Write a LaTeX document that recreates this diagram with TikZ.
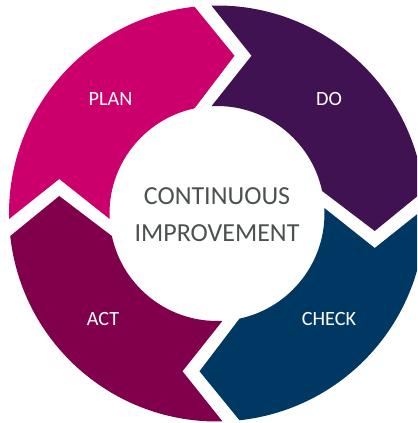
\documentclass[tikz,border=0pt]{standalone}
\usepackage{fontspec}
\setmainfont{Carlito}
\usepackage{tikz}
\definecolor{planpink}{RGB}{204,0,109}
\definecolor{dopurple}{RGB}{64,18,82}
\definecolor{checkblue}{RGB}{0,56,100}
\definecolor{actplum}{RGB}{128,0,75}
\definecolor{centregray}{RGB}{75,80,80}
\usetikzlibrary{calc}
\tikzset{%
  phase/.style={text=white, font=\fontsize{11.5}{13}\selectfont},% phase label on an arrow
  centre/.style={text=centregray, align=center,
    font=\fontsize{14.8}{21}\selectfont}% text in the middle
}
\newcommand*{\Rout}{4.16}
\newcommand*{\Rin}{2.15}
\newcommand*{\Rmid}{3.155}
\newcommand*{\gapoff}{0.28}
\newcommand*{\gapw}{0.17}
\newcommand*{\tipd}{0.8}
% #1: angle of the gap at the head, #2: colour
\newcommand*{\cyclearrow}[2]{
  \fill[#2] ({#1+90+asin((\gapoff-\gapw)/\Rout)}:\Rout)
    arc[start angle={#1+90+asin((\gapoff-\gapw)/\Rout)},
        end angle={#1+asin((\gapoff+\gapw)/\Rout)}, radius=\Rout]
    -- ([rotate=#1]\Rmid,\gapoff+\gapw-\tipd)
    -- ({#1+asin((\gapoff+\gapw)/\Rin)}:\Rin)
    arc[start angle={#1+asin((\gapoff+\gapw)/\Rin)},
        end angle={#1+90+asin((\gapoff-\gapw)/\Rin)}, radius=\Rin]
    -- ([rotate=#1+90]\Rmid,\gapoff-\gapw-\tipd)
    -- cycle;}
\begin{document}
\begin{tikzpicture}
\useasboundingbox (-4.34, -4.19) rectangle (4.0, 4.27);
\clip (-4.34, -4.19) rectangle (4.0, 4.27);

\cyclearrow{90}{planpink}
\cyclearrow{0}{dopurple}
\cyclearrow{-90}{checkblue}
\cyclearrow{180}{actplum}

\node[phase] (plan) at (-2.13, 2.28) {PLAN};
\node[phase] (do) at (2.24, 2.28) {DO};
\node[phase] (check) at (2.24, -2.12) {CHECK};
\node[phase] (act) at (-2.28, -2.12) {ACT};

\node[centre] (ci) at (0, -0.02) {CONTINUOUS\\IMPROVEMENT};

\end{tikzpicture}
\end{document}
